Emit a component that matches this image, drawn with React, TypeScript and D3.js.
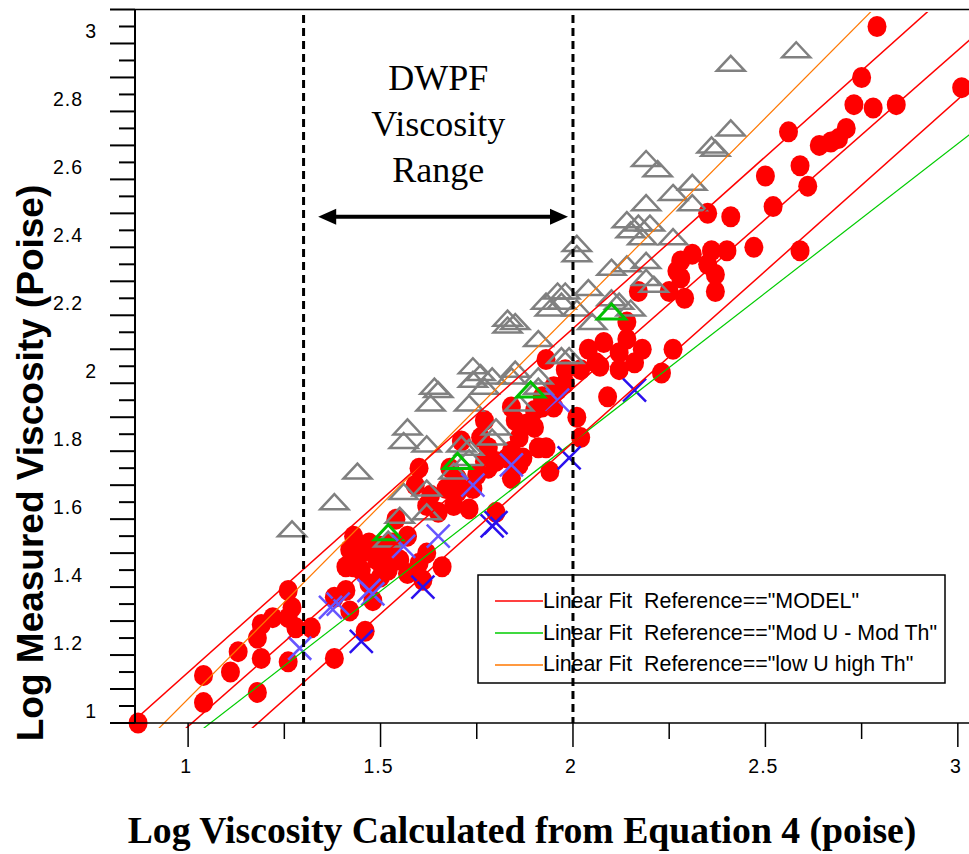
import React from "react";
import * as d3 from "d3";

// ---- data (log viscosity calculated, log viscosity measured) ----
const modelPoints: [number, number][] = [
  [0.87, 0.95], [1.04, 1.09], [1.04, 1.01], [1.11, 1.10], [1.13, 1.16], [1.18, 1.04], [1.19, 1.24],
  [1.22, 1.26], [1.18, 1.20], [1.19, 1.14], [1.26, 1.34], [1.27, 1.29], [1.26, 1.26], [1.28, 1.23],
  [1.32, 1.23], [1.26, 1.13], [1.38, 1.14], [1.41, 1.34], [1.42, 1.28], [1.46, 1.22], [1.48, 1.31],
  [1.41, 1.41], [1.43, 1.50], [1.42, 1.46], [1.43, 1.41], [1.38, 1.32], [1.45, 1.45], [1.45, 1.40],
  [1.49, 1.43], [1.52, 1.45], [1.54, 1.55], [1.57, 1.50], [1.57, 1.39], [1.61, 1.37], [1.66, 1.41],
  [1.62, 1.45], [1.60, 1.70], [1.59, 1.65], [1.62, 1.59], [1.65, 1.57], [1.69, 1.59], [1.73, 1.58],
  [1.67, 1.64], [1.71, 1.78], [1.77, 1.84], [1.80, 1.72], [1.78, 1.70], [1.83, 1.73], [1.86, 1.79],
  [1.88, 1.83], [1.91, 1.76], [1.84, 1.88], [1.92, 1.91], [1.95, 1.88], [1.94, 1.69], [1.80, 1.57],
  [1.86, 1.71], [1.93, 1.76], [1.90, 1.82], [1.95, 1.94], [1.84, 1.67], [1.77, 1.72], [1.84, 1.75],
  [1.90, 1.87], [1.93, 2.02], [1.98, 1.99], [1.98, 1.95], [1.96, 1.93], [2.02, 1.99], [2.04, 2.05],
  [2.06, 2.01], [2.08, 2.07], [2.07, 2.00], [2.12, 2.04], [2.14, 2.08], [2.16, 2.01], [2.18, 2.05],
  [2.14, 2.13], [2.17, 2.22], [2.25, 2.22], [2.26, 2.05], [2.12, 1.99], [2.23, 1.98], [2.09, 1.91],
  [2.01, 1.85], [2.02, 1.79], [1.85, 1.84], [1.78, 1.76], [1.87, 1.73], [1.74, 1.64], [1.92, 1.88],
  [2.28, 2.31], [2.27, 2.28], [2.28, 2.26], [2.31, 2.33], [2.35, 2.30], [2.36, 2.34], [2.40, 2.34],
  [2.37, 2.27], [2.37, 2.22], [2.29, 2.20], [2.35, 2.45], [2.41, 2.44], [2.47, 2.35], [2.59, 2.34],
  [2.52, 2.47], [2.50, 2.56], [2.59, 2.59], [2.61, 2.53], [2.56, 2.69], [2.64, 2.65], [2.67, 2.66],
  [2.69, 2.67], [2.71, 2.70], [2.73, 2.77], [2.78, 2.76], [2.84, 2.77], [2.75, 2.85], [2.79, 3.00],
  [3.01, 2.82], [1.50, 1.38], [1.53, 1.48], [1.47, 1.36], [1.50, 1.47], [1.55, 1.43], [1.52, 1.40],
  [1.47, 1.48], [1.60, 1.42], [1.63, 1.62], [1.70, 1.63], [1.68, 1.70], [1.75, 1.68], [1.70, 1.67],
  [1.76, 1.79],
];

const lowUHighThPoints: [number, number][] = [
  [1.27, 1.52], [1.38, 1.60], [1.44, 1.69], [1.57, 1.82], [1.56, 1.78], [1.62, 1.77], [1.64, 1.94],
  [1.63, 1.89], [1.73, 1.89], [1.74, 2.00], [1.74, 1.96], [1.76, 1.98], [1.79, 1.97], [1.84, 1.97],
  [1.85, 1.99], [1.77, 1.94], [1.80, 1.82], [1.79, 1.79], [1.73, 1.76], [1.73, 1.73], [1.69, 1.69],
  [1.62, 1.64], [1.56, 1.63], [1.62, 1.57], [1.55, 1.56], [1.52, 1.49], [1.86, 1.89], [1.91, 1.94],
  [1.91, 1.97], [1.91, 2.08], [1.83, 2.14], [1.83, 2.12], [1.85, 2.13], [1.97, 2.03], [1.96, 2.22],
  [1.93, 2.19], [1.97, 2.19], [2.01, 2.17], [1.94, 2.17], [2.01, 2.36], [2.01, 2.33], [2.10, 2.29],
  [2.04, 2.23], [1.98, 2.22], [2.10, 2.20], [2.15, 2.17], [2.05, 2.13], [1.99, 2.03], [2.14, 2.30],
  [2.19, 2.31], [2.19, 2.26], [2.26, 2.38], [2.14, 2.43], [2.17, 2.42], [2.20, 2.42], [2.15, 2.40],
  [2.18, 2.38], [2.19, 2.48], [2.31, 2.48], [2.26, 2.51], [2.31, 2.54], [2.19, 2.61], [2.22, 2.58],
  [2.36, 2.65], [2.37, 2.64], [2.41, 2.70], [2.41, 2.89], [2.58, 2.93], [2.12, 2.19], [2.21, 2.24],
  [1.65, 1.93], [1.71, 1.77],
];

const modUModThPoints: [number, number][] = [
  [1.52, 1.51], [1.70, 1.72], [1.89, 1.93], [2.10, 2.16],
];

const crossLightPoints: [number, number][] = [
  [1.29, 1.17], [1.37, 1.29], [1.39, 1.30], [1.47, 1.34], [1.48, 1.33], [1.56, 1.47], [1.65, 1.50],
  [1.74, 1.65], [1.84, 1.71], [1.96, 1.90],
];

const crossDarkPoints: [number, number][] = [
  [1.45, 1.19], [1.61, 1.35], [1.79, 1.53], [1.80, 1.54], [1.99, 1.73], [2.16, 1.93],
];

// linear fits: [intercept, slope]
const modelFit: [number, number] = [-0.055, 0.995];
const modelUpper: [number, number] = [0.087, 1.012];
const modelLower: [number, number] = [-0.242, 1.009];
const modUFit: [number, number] = [0.021, 0.878];
const lowUFit: [number, number] = [-0.119, 1.14];

const xMajorTicks = [1, 1.5, 2, 2.5, 3];
const xMinorTicks = [1.25, 1.75, 2.25, 2.75];
const yLabelTicks = [1, 1.2, 1.4, 1.6, 1.8, 2, 2.2, 2.4, 2.6, 2.8, 3];
const dwpfRange = [1.3, 2.0];
const arrowRange = [1.338, 1.987];
const arrowLevel = 2.44;
const rangeLabel = ["DWPF", "Viscosity", "Range"];

const legendItems = [
  { label: 'Linear Fit  Reference=="MODEL"', color: "#ff0000" },
  { label: 'Linear Fit  Reference=="Mod U - Mod Th"', color: "#00cc00" },
  { label: 'Linear Fit  Reference=="low U high Th"', color: "#ff7700" },
];

export default function App() {
  const W = 969;
  const H = 854;
  const x = d3.scaleLinear().domain([0.862, 3.029]).range([135, 969]);
  const y = d3.scaleLinear().domain([0.95, 3.05]).range([723, 9.5]);
  const left = 135;
  const bottom = 723;
  const top = 9.5;
  const right = 969;

  const yTicks = d3.range(0, 43).map((i) => ({ v: 0.95 + i * 0.05, long: i % 2 === 0 }));

  const fitLine = (f: [number, number]) => {
    const xs = [0.8, 3.1];
    return d3.line<number>().x((d) => x(d)).y((d) => y(f[0] + f[1] * d))(xs) || "";
  };

  const tri = (cx: number, cy: number) => `M${cx},${cy - 8}L${cx + 14},${cy + 7}L${cx - 14},${cy + 7}Z`;
  const cross = (cx: number, cy: number, s = 11.5) =>
    `M${cx - s},${cy - s}L${cx + s},${cy + s}M${cx - s},${cy + s}L${cx + s},${cy - s}`;

  const ax0 = x(arrowRange[0]);
  const ax1 = x(arrowRange[1]);
  const ay = y(arrowLevel);
  const textX = x((dwpfRange[0] + dwpfRange[1]) / 2);

  return (
    <svg
      width={W}
      height={H}
      style={{ position: "absolute", left: 0, top: 0, background: "#fff" }}
      fontFamily="'Liberation Sans', Arial, sans-serif"
    >
      <defs>
        <clipPath id="fitclip">
          <rect x={left} y={12} width={right - left} height={728 - 12} />
        </clipPath>
      </defs>
      <rect x={0} y={0} width={W} height={H} fill="#fff" />

      {/* red circles */}
      <g>
        {modelPoints.map((p, i) => (
          <ellipse key={i} cx={x(p[0])} cy={y(p[1])} rx={9.5} ry={10.5} fill="#ff0000" />
        ))}
      </g>
      {/* gray triangles */}
      <g fill="none" stroke="#808080" strokeWidth={2.5}>
        {lowUHighThPoints.map((p, i) => (
          <path key={i} d={tri(x(p[0]), y(p[1]))} />
        ))}
      </g>
      {/* green triangles */}
      <g fill="none" stroke="#00c000" strokeWidth={3}>
        {modUModThPoints.map((p, i) => (
          <path key={i} d={tri(x(p[0]), y(p[1]))} />
        ))}
      </g>
      {/* crosses */}
      <g fill="none" stroke="#6655ff" strokeWidth={2.5}>
        {crossLightPoints.map((p, i) => (
          <path key={i} d={cross(x(p[0]), y(p[1]))} />
        ))}
      </g>
      <g fill="none" stroke="#2a10ee" strokeWidth={2.5}>
        {crossDarkPoints.map((p, i) => (
          <path key={i} d={cross(x(p[0]), y(p[1]))} />
        ))}
      </g>

      {/* fit lines */}
      <g clipPath="url(#fitclip)" fill="none">
        <path d={fitLine(modUFit)} stroke="#00cc00" strokeWidth={1.2} />
        <path d={fitLine(lowUFit)} stroke="#ff7700" strokeWidth={1.2} />
        <path d={fitLine(modelFit)} stroke="#ff0000" strokeWidth={1.5} />
        <path d={fitLine(modelUpper)} stroke="#ff0000" strokeWidth={1.5} />
        <path d={fitLine(modelLower)} stroke="#ff0000" strokeWidth={1.5} />
      </g>

      {/* axes */}
      <g stroke="#000" strokeWidth={2}>
        <line x1={left} x2={left} y1={top} y2={bottom} />
        <line x1={left} x2={right} y1={bottom} y2={bottom} strokeWidth={1.5} />
        <line x1={left} x2={right} y1={top} y2={top} strokeWidth={1.5} />
        {yTicks.map((t, i) => (
          <line key={i} x1={t.long ? left - 25 : left - 16} x2={left} y1={y(t.v)} y2={y(t.v)} />
        ))}
        {xMajorTicks.map((t, i) => (
          <line key={"M" + i} x1={x(t)} x2={x(t)} y1={bottom} y2={bottom + 24} strokeWidth={1.5} />
        ))}
        {xMinorTicks.map((t, i) => (
          <line key={"m" + i} x1={x(t)} x2={x(t)} y1={bottom} y2={bottom + 16} strokeWidth={1.5} />
        ))}
      </g>
      <g fontSize={19.5} fill="#000">
        {yLabelTicks.map((t, i) => {
          const lab = d3.format("~g")(t);
          return (
            <text key={i} x={lab.includes(".") ? 83 : 97} y={y(t) + 11.5} textAnchor="end" letterSpacing={1}>
              {lab}
            </text>
          );
        })}
        {xMajorTicks.map((t, i) => (
          <text key={i} x={x(t) - 2} y={773} textAnchor="middle" letterSpacing={1}>
            {d3.format("~g")(t)}
          </text>
        ))}
      </g>

      {/* axis titles */}
      <text
        x={522}
        y={843}
        textAnchor="middle"
        fontFamily="'Liberation Serif', 'Times New Roman', serif"
        fontWeight="bold"
        fontSize={37.7}
      >
        Log Viscosity Calculated from Equation 4 (poise)
      </text>
      <text
        transform="translate(43,463) rotate(-90)"
        textAnchor="middle"
        fontWeight="bold"
        fontSize={37}
      >
        Log Measured Viscosity (Poise)
      </text>

      {/* DWPF annotation */}
      <g fontFamily="'Liberation Serif', 'Times New Roman', serif" fontSize={36} textAnchor="middle">
        {rangeLabel.map((s, i) => (
          <text key={i} x={textX} y={90 + i * 46}>
            {s}
          </text>
        ))}
      </g>
      <g>
        <line x1={ax0 + 14} x2={ax1 - 14} y1={ay} y2={ay} stroke="#000" strokeWidth={4} />
        <path d={`M${ax0},${ay}L${ax0 + 18},${ay - 8}L${ax0 + 18},${ay + 8}Z`} fill="#000" />
        <path d={`M${ax1},${ay}L${ax1 - 18},${ay - 8}L${ax1 - 18},${ay + 8}Z`} fill="#000" />
      </g>

      {/* legend */}
      <g>
        <rect x={478} y={575} width={467} height={108} fill="#fff" stroke="#000" strokeWidth={1.5} />
        {legendItems.map((it, i) => (
          <g key={i}>
            <line x1={495} x2={543} y1={601 + i * 32} y2={601 + i * 32} stroke={it.color} strokeWidth={1.5} />
            <text x={543} y={608 + i * 31.5} fontSize={21.4} style={{ whiteSpace: "pre" }}>
              {it.label}
            </text>
          </g>
        ))}
      </g>

      {/* DWPF range dashed lines */}
      <g stroke="#000" strokeWidth={3} strokeDasharray="8,5">
        {dwpfRange.map((v, i) => (
          <line key={i} x1={x(v)} x2={x(v)} y1={15} y2={bottom} />
        ))}
      </g>
    </svg>
  );
}
